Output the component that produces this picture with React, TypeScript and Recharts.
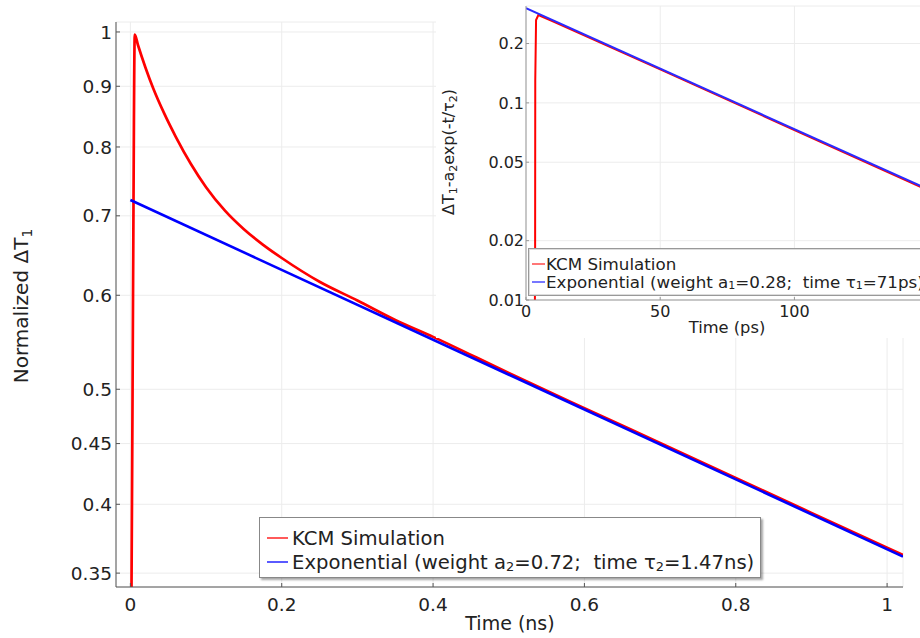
import React from "react";
import { LineChart, Line, XAxis, YAxis, CartesianGrid, Legend } from "recharts";

// main plot: normalized temperature rise vs time (ns)
const kcmTimeNs = [0, 0.0015, 0.0035, 0.0058, 0.01, 0.02, 0.03, 0.045, 0.06, 0.08, 0.1, 0.125, 0.15, 0.175, 0.2, 0.25, 0.3, 0.35, 0.4, 0.5, 0.6, 0.7, 0.8, 0.9, 1.0, 1.021];
const kcmNorm = [0.3, 0.34, 0.6, 0.995, 0.975, 0.933, 0.897, 0.853, 0.816, 0.774, 0.74, 0.707, 0.682, 0.662, 0.645, 0.616, 0.594, 0.572, 0.5535, 0.516, 0.482, 0.4505, 0.421, 0.3934, 0.3676, 0.3625];
const fitTimeNs = [0, 1.021];
const fitNorm = [0.7218, 0.3614];

const mainTicksX = [0, 0.2, 0.4, 0.6, 0.8, 1];
const mainTicksY = [0.35, 0.4, 0.45, 0.5, 0.6, 0.7, 0.8, 0.9, 1];

// inset: residual after removing slow exponential, time in ps
const kcmTimePs = [0, 3.2, 3.4, 3.45, 3.75, 4.6, 10, 50, 100, 152];
const kcmResidual = [0.001, 0.004, 0.018, 0.13, 0.263, 0.279, 0.259, 0.148, 0.0728, 0.0349];
const fitTimePs = [0, 152];
const fitResidual = [0.302, 0.0353];

const insetTicksX = [0, 50, 100];
const insetTicksY = [0.01, 0.02, 0.05, 0.1, 0.2];

const zip = (t: number[], v: number[]) => t.map((x, i) => ({ t: x, v: v[i] }));

const kcmMain = zip(kcmTimeNs, kcmNorm);
const fitMain = zip(fitTimeNs, fitNorm);
const kcmInset = zip(kcmTimePs, kcmResidual);
const fitInset = zip(fitTimePs, fitResidual);

const TEXT = "#222";
const Sub = ({ children }: { children: React.ReactNode }) => (
  <span style={{ fontSize: "0.66em", position: "relative", top: "0.34em" }}>{children}</span>
);

function MainYTitle() {
  return (
    <text x={-306} y={28} transform="rotate(-90)" textAnchor="middle" fontSize={20} fill={TEXT}>
      Normalized ΔT<tspan fontSize={14} dy={4}>1</tspan>
    </text>
  );
}

function MainXTitle() {
  return (
    <text x={510} y={630} textAnchor="middle" fontSize={19} fill={TEXT}>
      Time (ns)
    </text>
  );
}

function InsetYTitle() {
  return (
    <text x={-152} y={18} transform="rotate(-90)" textAnchor="middle" fontSize={16} fill={TEXT}>
      ΔT<tspan fontSize={11} dy={3}>1</tspan>
      <tspan dy={-3}>-a</tspan>
      <tspan fontSize={11} dy={3}>2</tspan>
      <tspan dy={-3}>exp(-t/τ</tspan>
      <tspan fontSize={11} dy={3}>2</tspan>
      <tspan dy={-3}>)</tspan>
    </text>
  );
}

function InsetXTitle() {
  return (
    <text x={291} y={333} textAnchor="middle" fontSize={16.3} fill={TEXT}>
      Time (ps)
    </text>
  );
}

function MainLegend() {
  const row = { display: "flex", alignItems: "center", height: 24, whiteSpace: "pre" as const };
  const swatch = (c: string) => (
    <span style={{ display: "inline-block", width: 21, height: 2, background: c, marginRight: 4 }} />
  );
  return (
    <div
      style={{
        border: "1px solid #888",
        background: "#fff",
        boxShadow: "2px 2px 2px rgba(0,0,0,0.35)",
        padding: "8px 6px 3px 7px",
        fontSize: 19.6,
        color: TEXT,
        width: "max-content",
      }}
    >
      <div style={row}>
        {swatch("#ff5a5a")}KCM Simulation
      </div>
      <div style={row}>
        {swatch("#5a5aff")}Exponential (weight a<Sub>2</Sub>=0.72;  time τ<Sub>2</Sub>=1.47ns)
      </div>
    </div>
  );
}

function InsetLegend() {
  const row = { display: "flex", alignItems: "center", height: 18, whiteSpace: "pre" as const };
  const swatch = (c: string) => (
    <span style={{ display: "inline-block", width: 13, height: 1.5, background: c, marginRight: 1 }} />
  );
  return (
    <div
      style={{
        border: "1px solid #999",
        background: "#fff",
        boxShadow: "inset 0 0 0 1px #ddd",
        padding: "6px 8px 4px 3px",
        fontSize: 16.7,
        color: TEXT,
        width: "max-content",
      }}
    >
      <div style={row}>
        {swatch("#ff7777")}KCM Simulation
      </div>
      <div style={row}>
        {swatch("#7777ff")}Exponential (weight a<Sub>1</Sub>=0.28;  time τ<Sub>1</Sub>=71ps)
      </div>
    </div>
  );
}

export default function App() {
  return (
    <div
      style={{
        position: "fixed",
        left: 0,
        top: 0,
        width: 920,
        height: 638,
        overflow: "hidden",
        background: "#fff",
        fontFamily: "'DejaVu Sans', sans-serif",
      }}
    >
      <div style={{ position: "absolute", left: 0, top: 0 }}>
        <LineChart width={920} height={638} margin={{ top: 22, right: 17, bottom: 11, left: 0 }}>
          <CartesianGrid stroke="#ececec" />
          <XAxis
            type="number"
            dataKey="t"
            domain={[-0.019, 1.021]}
            ticks={mainTicksX}
            allowDataOverflow
            height={40}
            tickSize={-4}
            tickMargin={15}
            stroke="#555"
            tick={{ fill: TEXT, fontSize: 18.5 }}
            label={<MainXTitle />}
          />
          <XAxis
            xAxisId="top"
            orientation="top"
            type="number"
            domain={[-0.019, 1.021]}
            ticks={mainTicksX}
            allowDataOverflow
            height={0}
            tick={false}
            tickSize={-4}
            stroke="#555"
          />
          <YAxis
            type="number"
            scale="log"
            domain={[0.3407, 1.0195]}
            ticks={mainTicksY}
            allowDataOverflow
            width={116}
            tickSize={-4}
            tickMargin={8}
            stroke="#555"
            tick={{ fill: TEXT, fontSize: 18.5 }}
            label={<MainYTitle />}
          />
          <YAxis
            yAxisId="right"
            orientation="right"
            type="number"
            scale="log"
            domain={[0.3407, 1.0195]}
            ticks={mainTicksY}
            allowDataOverflow
            width={0}
            tick={false}
            tickSize={-4}
            stroke="#555"
          />
          <Line
            data={kcmMain}
            dataKey="v"
            name="KCM Simulation"
            type="monotone"
            stroke="#ff0000"
            strokeWidth={2.7}
            dot={false}
            isAnimationActive={false}
          />
          <Line
            data={fitMain}
            dataKey="v"
            name="Exponential"
            type="linear"
            stroke="#0000ff"
            strokeWidth={2.6}
            dot={false}
            isAnimationActive={false}
          />
          <Legend
            layout="horizontal"
            verticalAlign="middle"
            align="center"
            content={<MainLegend />}
            wrapperStyle={{ left: 259, top: 517, width: "auto", height: "auto" }}
          />
        </LineChart>
      </div>

      <div style={{ position: "absolute", left: 436, top: 0, width: 510, height: 338, background: "#fff" }}>
        <LineChart width={510} height={338} margin={{ top: 6, right: 12, bottom: 4, left: 0 }}>
          <CartesianGrid stroke="#ececec" />
          <XAxis
            type="number"
            dataKey="t"
            domain={[0, 152]}
            ticks={insetTicksX}
            allowDataOverflow
            height={34}
            tickSize={-3}
            tickMargin={9}
            stroke="#999"
            tick={{ fill: TEXT, fontSize: 16 }}
            label={<InsetXTitle />}
          />
          <XAxis
            xAxisId="top"
            orientation="top"
            type="number"
            domain={[0, 152]}
            ticks={insetTicksX}
            allowDataOverflow
            height={0}
            tick={false}
            tickSize={-3}
            stroke="#999"
          />
          <YAxis
            type="number"
            scale="log"
            domain={[0.01, 0.31]}
            ticks={insetTicksY}
            allowDataOverflow
            width={90}
            tickSize={-3}
            tickMargin={5}
            stroke="#999"
            tick={{ fill: TEXT, fontSize: 16 }}
            label={<InsetYTitle />}
          />
          <Line
            data={kcmInset}
            dataKey="v"
            name="KCM Simulation"
            type="linear"
            stroke="#ff0000"
            strokeWidth={2}
            dot={false}
            isAnimationActive={false}
          />
          <Line
            data={fitInset}
            dataKey="v"
            name="Exponential"
            type="linear"
            stroke="#2a2aff"
            strokeWidth={2}
            dot={false}
            isAnimationActive={false}
          />
          <Legend
            layout="horizontal"
            verticalAlign="middle"
            align="center"
            content={<InsetLegend />}
            wrapperStyle={{ left: 92, top: 248, width: "auto", height: "auto" }}
          />
        </LineChart>
      </div>
    </div>
  );
}
